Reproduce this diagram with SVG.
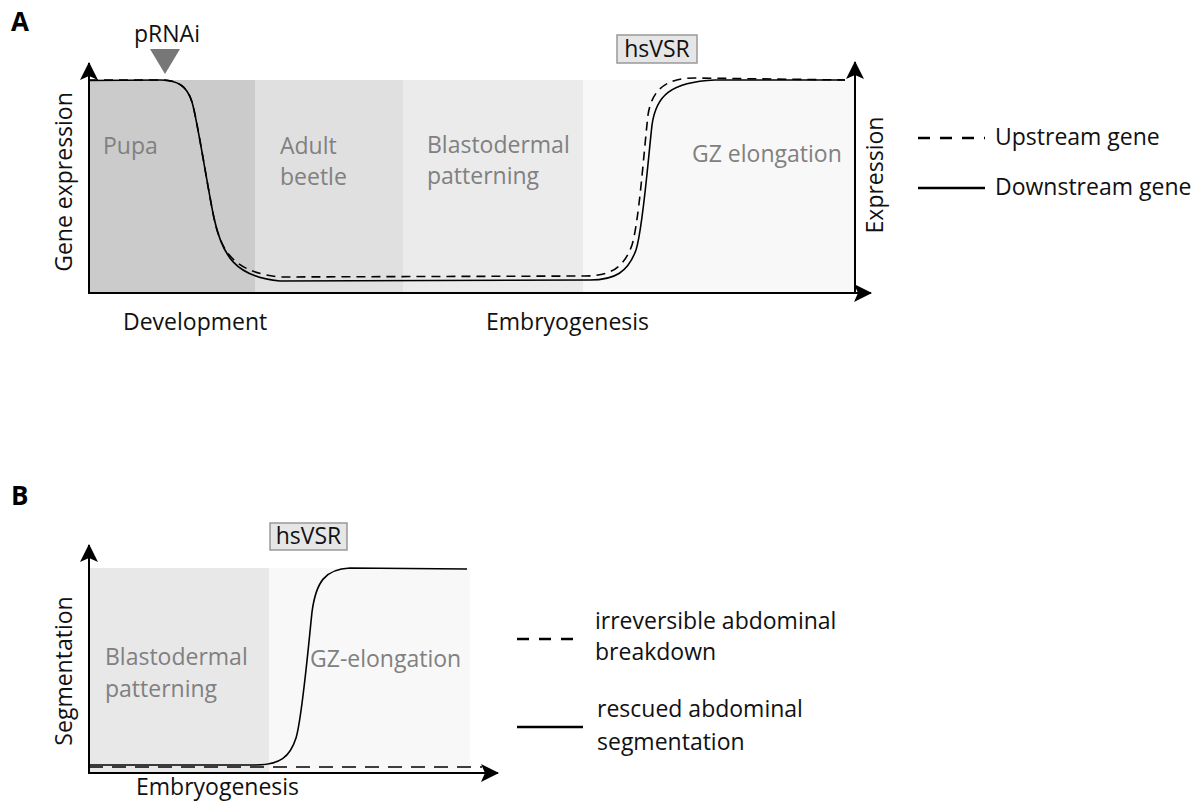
<svg xmlns="http://www.w3.org/2000/svg" width="1200" height="803" viewBox="0 0 1200 803">
<defs>
<marker id="arr" viewBox="0 0 18 18" refX="17" refY="9" markerWidth="18" markerHeight="18" orient="auto" markerUnits="userSpaceOnUse">
<path d="M0,0 L18,9 L0,18 L4,9 z" fill="#000"/>
</marker>
<style>
text{font-family:"Open Sans","Noto Sans","Liberation Sans",sans-serif;font-size:23px;fill:#111}
.panel{font-family:"Open Sans","Liberation Sans",Arial,sans-serif;font-weight:bold;font-size:26px;fill:#000}
.gl{fill:#808080}
.axis{stroke:#000;stroke-width:2;fill:none;marker-end:url(#arr)}
.solid{stroke:#000;stroke-width:1.6;fill:none}
.dash{stroke:#000;stroke-width:1.6;fill:none;stroke-dasharray:9 6}
.dashB{stroke:#000;stroke-width:1.6;fill:none;stroke-dasharray:14 9}
.box{fill:#e6e6e6;stroke:#999;stroke-width:1.5}
</style>
</defs>
<rect width="1200" height="803" fill="#fff"/>

<!-- Panel A -->
<text class="panel" x="11" y="31">A</text>
<g id="A-regions">
<rect x="89" y="80" width="166" height="213" fill="#cbcbcb"/>
<rect x="255" y="80" width="148" height="213" fill="#e0e0e0"/>
<rect x="403" y="80" width="180" height="213" fill="#ebebeb"/>
<rect x="583" y="80" width="272" height="213" fill="#f8f8f8"/>
</g>
<g id="A-region-labels">
<text class="gl" x="103" y="154">Pupa</text>
<text class="gl" x="280" y="154">Adult</text>
<text class="gl" x="280" y="185">beetle</text>
<text class="gl" x="427" y="153">Blastodermal</text>
<text class="gl" x="427" y="184">patterning</text>
<text class="gl" x="692" y="162">GZ elongation</text>
</g>
<g id="A-pRNAi">
<text x="167" y="42" text-anchor="middle">pRNAi</text>
<polygon points="150,49 180,49 165,74" fill="#777"/>
</g>
<g id="A-hsVSR">
<rect class="box" x="617" y="35" width="80" height="28"/>
<text x="657" y="57" text-anchor="middle">hsVSR</text>
</g>
<g id="A-curves">
<path class="dash" d="M89,80 L160,80 C178,80 187,86 192,102 C197,118 208,190 214,218 C221,250 232,272 280,277 L585,276 C610,276 624,268 632,245 C639,222 644,150 648,115 C652,88 668,78 695,78 L845,80"/>
<path class="solid" d="M89,80.5 L160,80 C178,80 187,86 192,102 C197,118 208,190 214,218 C222,255 235,277 280,281 L590,280 C615,280 628,272 636,250 C643,228 648,160 652,125 C656,96 670,82 715,80 L845,80"/>
</g>
<g id="A-axes">
<path class="axis" d="M89,293 L89,63"/>
<path class="axis" d="M855,293 L855,62"/>
<path class="axis" d="M88,293 L871,293"/>
</g>
<g id="A-axis-labels">
<text transform="translate(72,182) rotate(-90)" text-anchor="middle">Gene expression</text>
<text transform="translate(883,175) rotate(-90)" text-anchor="middle">Expression</text>
<text x="123" y="330">Development</text>
<text x="486" y="330">Embryogenesis</text>
</g>
<g id="A-legend">
<line class="dash" x1="918" y1="138" x2="985" y2="138" style="stroke-width:2.5;stroke-dasharray:12 10"/>
<text x="995" y="145">Upstream gene</text>
<line class="solid" x1="918" y1="188" x2="985" y2="188" style="stroke-width:2.5"/>
<text x="995" y="195">Downstream gene</text>
</g>

<!-- Panel B -->
<text class="panel" x="11" y="505">B</text>
<g id="B-regions">
<rect x="89" y="568" width="180" height="205" fill="#e8e8e8"/>
<rect x="269" y="568" width="201" height="205" fill="#f8f8f8"/>
</g>
<g id="B-region-labels">
<text class="gl" x="105" y="665">Blastodermal</text>
<text class="gl" x="105" y="697">patterning</text>
<text class="gl" x="310" y="667">GZ-elongation</text>
</g>
<g id="B-hsVSR">
<rect class="box" x="270" y="523" width="77" height="27"/>
<text x="308.5" y="544" text-anchor="middle">hsVSR</text>
</g>
<g id="B-curves">
<path class="dashB" d="M89,767 L482,767"/>
<path class="solid" d="M89,765 L255,765 C280,765 290,757 296,738 C302,718 307,660 312,612 C316,582 325,569 350,568 L467,569"/>
</g>
<g id="B-axes">
<path class="axis" d="M89,773 L89,545"/>
<path class="axis" d="M88,773 L498,773"/>
</g>
<g id="B-axis-labels">
<text transform="translate(72,671) rotate(-90)" text-anchor="middle">Segmentation</text>
<text x="136" y="795">Embryogenesis</text>
</g>
<g id="B-legend">
<line class="dash" x1="517" y1="639" x2="583" y2="639" style="stroke-width:2.5;stroke-dasharray:12 10"/>
<text x="595" y="629">irreversible abdominal</text>
<text x="595" y="660">breakdown</text>
<line class="solid" x1="517" y1="727" x2="583" y2="727" style="stroke-width:2.5"/>
<text x="597" y="717">rescued abdominal</text>
<text x="597" y="750">segmentation</text>
</g>
</svg>
